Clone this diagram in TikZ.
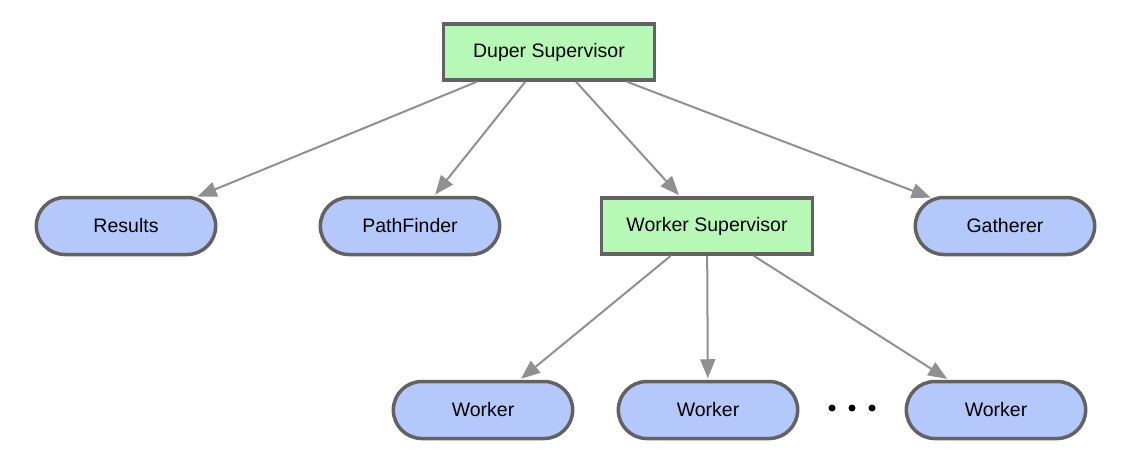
\documentclass[tikz,border=0pt]{standalone}
\usepackage{fontspec}
\setmainfont{Liberation Sans}
\usetikzlibrary{shapes.misc, arrows.meta}
\definecolor{supgreen}{RGB}{184,248,182}
\definecolor{actorblue}{RGB}{180,200,252}
\definecolor{rim}{RGB}{98,98,98}
\definecolor{wire}{RGB}{144,144,144}

\begin{document}
\begin{tikzpicture}
[
    x = 1pt, y = -1pt,
    font = \fontsize{19.5}{23}\selectfont,
    sup/.style   = { draw = rim, line width = 3.5pt, fill = supgreen,
                     minimum width = 211pt, minimum height = 56pt},
    actor/.style = { rounded rectangle, draw = rim, line width = 3.5pt, fill = actorblue,
                     minimum width = 186pt, minimum height = 57pt},
    link/.style  = { draw = wire, line width = 2pt, shorten > = 1.5pt,
                     -{Triangle[length = 19pt, width = 15pt]}}
]
\useasboundingbox (0,0) rectangle (1131,463);

\node[sup]   (duper)      at (549,52)  {Duper Supervisor};
\node[actor] (results)    at (126,226) {Results};
\node[actor] (pathfinder) at (410,226) {PathFinder};
\node[sup]   (wsup)       at (707,226) {Worker Supervisor};
\node[actor] (gatherer)   at (1005,226) {Gatherer};

\node[actor] (worker1) at (483,410) {Worker};
\node[actor] (worker2) at (708,410) {Worker};
\node[actor] (worker3) at (996,410) {Worker};

% the three dots between the workers
\foreach \x in {832,852,872}
    \fill (\x,408) circle (3.5pt);

\foreach \child in {results, pathfinder, wsup, gatherer}
    \draw[link] (duper) -- (\child);
\foreach \child in {worker1, worker2, worker3}
    \draw[link] (wsup) -- (\child);
\end{tikzpicture}
\end{document}
